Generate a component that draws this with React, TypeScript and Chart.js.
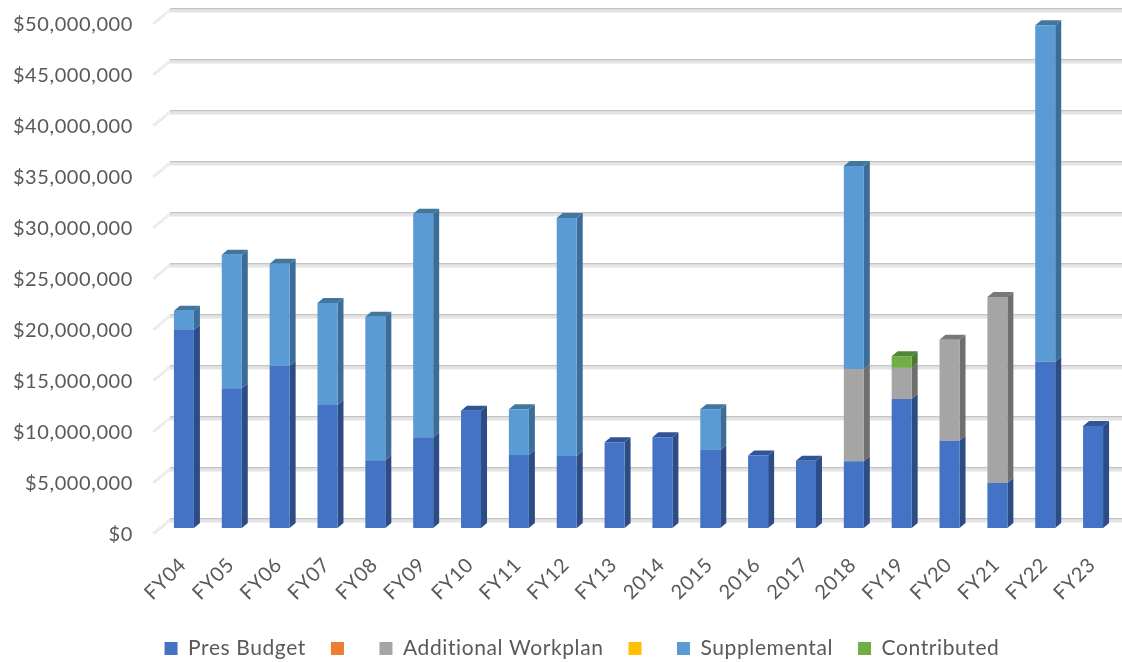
import React, { useEffect, useRef } from "react";
import { Chart, registerables } from "chart.js";

Chart.register(...registerables);

const categories = ["FY04","FY05","FY06","FY07","FY08","FY09","FY10","FY11","FY12","FY13","2014","2015","2016","2017","2018","FY19","FY20","FY21","FY22","FY23"];
const presBudget = [19.4,13.7,15.9,12.05,6.65,8.9,11.5,7.15,7.05,8.4,8.9,7.65,7.1,6.6,6.55,12.65,8.55,4.4,16.3,10.0];
const blank1 = categories.map(() => 0);
const additionalWorkplan = [0,0,0,0,0,0,0,0,0,0,0,0,0,0,9.05,3.05,9.9,18.25,0,0];
const blank2 = categories.map(() => 0);
const supplemental = [1.9,13.1,10.0,10.0,14.05,21.9,0,4.5,23.35,0,0,4.0,0,0,19.9,0,0,0,33.0,0];
const contributed = [0,0,0,0,0,0,0,0,0,0,0,0,0,0,0,1.15,0,0,0,0];
const yTicks = [0,5,10,15,20,25,30,35,40,45,50];

const seriesNames = ["Pres Budget","","Additional Workplan","","Supplemental","Contributed"];
const seriesValues = [presBudget, blank1, additionalWorkplan, blank2, supplemental, contributed];
const fronts = ["#4472C4","#ED7D31","#A5A5A5","#FFC000","#5B9BD5","#70AD47"];
const sides = ["#2B4C85","#A85520","#6F6F6F","#B08500","#3C6D99","#4B7A30"];
const tops = ["#2F5597","#B85C22","#787878","#BF9000","#41769F","#53843A"];

const DX = 6, DY = 5;
const WALL_X = 170, WALL_DX = 17, GRID_UP = 8;

const threeD = {
  id: "threeD",
  beforeUpdate(chart: any) { chart.ctx.letterSpacing = "0.6px"; },
  afterLayout(chart: any) { chart.legend.left = 47; },
  beforeDraw(chart: any) { chart.ctx.letterSpacing = "0.6px"; },
  beforeDatasetsDraw(chart: any) {
    const { ctx, scales } = chart;
    const y = scales.y;
    ctx.save();
    for (const t of yTicks) {
      const py = y.getPixelForValue(t) - GRID_UP;
      ctx.fillStyle = "#E4E4E4";
      ctx.fillRect(WALL_X, py - 1.5, chart.width - WALL_X, 4);
      ctx.fillStyle = "#C4C4C4";
      ctx.fillRect(WALL_X, py - 2, chart.width - WALL_X, 1.2);
      ctx.strokeStyle = "#DADADA";
      ctx.lineWidth = 3;
      ctx.setLineDash([1, 1]);
      ctx.beginPath();
      ctx.moveTo(WALL_X, py);
      ctx.lineTo(WALL_X - WALL_DX, py + 14);
      ctx.stroke();
      ctx.setLineDash([]);
    }
    chart.data.datasets.forEach((ds: any, di: number) => {
      const meta = chart.getDatasetMeta(di);
      meta.data.forEach((bar: any, i: number) => {
        if (!ds.data[i]) return;
        const p = bar.getProps(["x", "y", "base", "width"], true);
        const right = p.x + p.width / 2;
        const left = p.x - p.width / 2;
        ctx.fillStyle = sides[di];
        ctx.beginPath();
        ctx.moveTo(right, p.y);
        ctx.lineTo(right + DX, p.y - DY);
        ctx.lineTo(right + DX, p.base - DY);
        ctx.lineTo(right, p.base);
        ctx.closePath();
        ctx.fill();
        const above = chart.data.datasets.slice(di + 1).some((d: any) => d.data[i] > 0);
        if (!above) {
          ctx.fillStyle = tops[di];
          ctx.beginPath();
          ctx.moveTo(left, p.y);
          ctx.lineTo(left + DX, p.y - DY);
          ctx.lineTo(right + DX, p.y - DY);
          ctx.lineTo(right, p.y);
          ctx.closePath();
          ctx.fill();
        }
      });
    });
    ctx.restore();
  },
};

export default function App() {
  const ref = useRef<HTMLCanvasElement>(null);
  useEffect(() => {
    const font = { family: "Lato", size: 20 };
    const chart = new Chart(ref.current!, {
      type: "bar",
      data: {
        labels: categories,
        datasets: seriesNames.map((label, i) => ({
          label,
          data: seriesValues[i],
          backgroundColor: fronts[i],
          borderWidth: 0,
          inflateAmount: 0,
          barThickness: 20,
        })),
      },
      options: {
        responsive: false,
        animation: false,
        layout: { padding: { top: 18, right: 5, left: 0, bottom: -7 } },
        plugins: {
          tooltip: { enabled: false },
          legend: {
            position: "bottom",
            labels: { boxWidth: 13, boxHeight: 13, padding: 25, color: "#595959", font: { family: "Lato", size: 21 } },
          },
        },
        scales: {
          x: {
            stacked: true,
            grid: { display: false },
            border: { display: false },
            afterFit(s: any) { s.height = 85; s.paddingLeft = 0; s.paddingRight = 0; },
            ticks: { color: "#595959", font, minRotation: 45, maxRotation: 45, autoSkip: false, padding: 17, labelOffset: -1 },
          },
          y: {
            stacked: true,
            min: 0,
            max: 50,
            grid: { display: false },
            border: { display: false },
            afterFit(s: any) { s.width = 160; s.paddingTop = 0; s.paddingBottom = 0; },
            afterBuildTicks(s: any) { s.ticks = yTicks.map((value) => ({ value })); },
            ticks: {
              color: "#595959",
              font,
              padding: 19,
              labelOffset: 7,
              callback: (v: any) => "$" + (Number(v) * 1000000).toLocaleString("en-US"),
            },
          },
        },
      },
      plugins: [threeD],
    } as any);
    return () => chart.destroy();
  }, []);
  return (
    <div style={{ position: "fixed", left: 0, top: 0, width: 1122, height: 662 }}>
      <canvas ref={ref} width={1122} height={662} style={{ display: "block", filter: "blur(0.7px)" }} />
    </div>
  );
}
